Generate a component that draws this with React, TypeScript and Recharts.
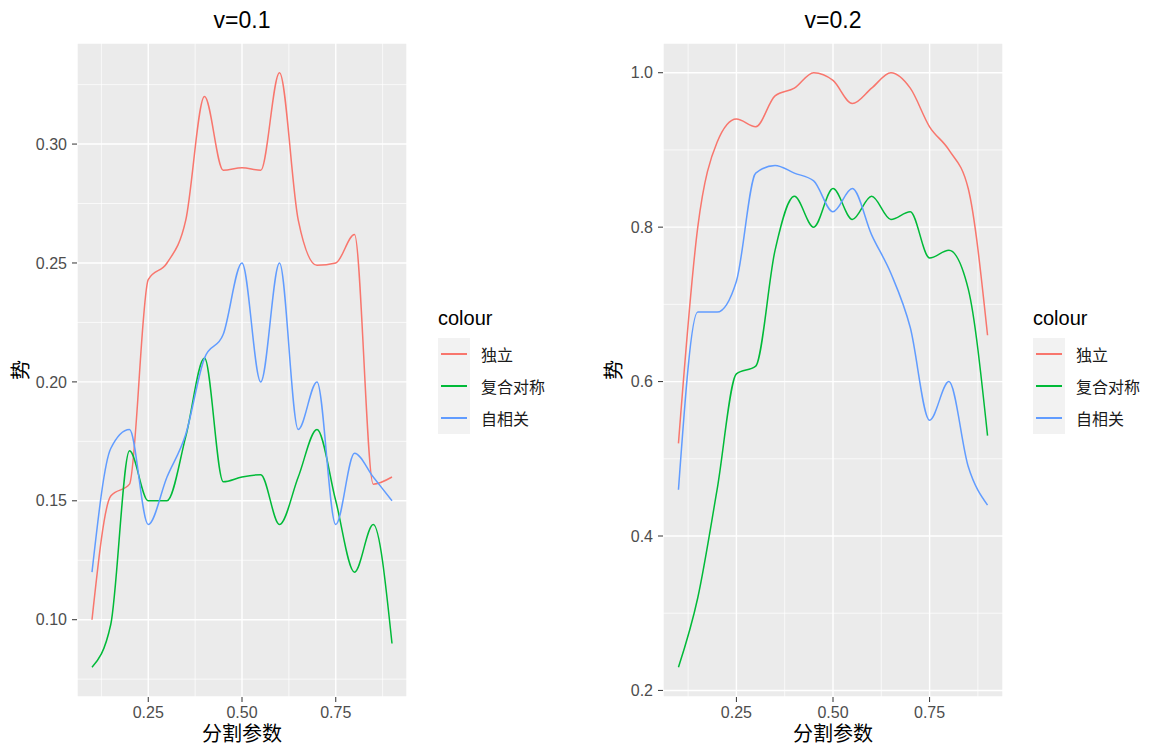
import { CartesianGrid, Legend, Line, LineChart, XAxis, YAxis } from "recharts";

const FONT = "'Liberation Sans', Arial, 'Noto Sans CJK SC', sans-serif";

const splitParams = [0.1, 0.15, 0.2, 0.25, 0.3, 0.35, 0.4, 0.45, 0.5, 0.55, 0.6, 0.65, 0.7, 0.75, 0.8, 0.85, 0.9];
const seriesNames = ["独立", "复合对称", "自相关"];
const seriesColors = ["#F8766D", "#00BA38", "#619CFF"];

// v = 0.1
const indepV1 = [0.1, 0.152, 0.157, 0.243, 0.25, 0.268, 0.32, 0.289, 0.29, 0.289, 0.33, 0.268, 0.249, 0.25, 0.262, 0.157, 0.16];
const compV1 = [0.08, 0.098, 0.171, 0.15, 0.15, 0.177, 0.21, 0.158, 0.16, 0.161, 0.14, 0.16, 0.18, 0.15, 0.12, 0.14, 0.09];
const autoV1 = [0.12, 0.172, 0.18, 0.14, 0.16, 0.178, 0.21, 0.22, 0.25, 0.2, 0.25, 0.18, 0.2, 0.14, 0.17, 0.16, 0.15];

// v = 0.2
const indepV2 = [0.52, 0.8, 0.91, 0.94, 0.93, 0.97, 0.98, 1.0, 0.99, 0.96, 0.98, 1.0, 0.98, 0.93, 0.9, 0.85, 0.66];
const compV2 = [0.23, 0.32, 0.46, 0.61, 0.62, 0.77, 0.84, 0.8, 0.85, 0.81, 0.84, 0.81, 0.82, 0.76, 0.77, 0.72, 0.53];
const autoV2 = [0.46, 0.69, 0.69, 0.73, 0.87, 0.88, 0.87, 0.86, 0.82, 0.85, 0.79, 0.74, 0.67, 0.55, 0.6, 0.49, 0.44];

const xTicks = [0.25, 0.5, 0.75];
const xMinor = [0.125, 0.375, 0.625, 0.875];
const yTicksV1 = [0.1, 0.15, 0.2, 0.25, 0.3];
const yMinorV1 = [0.075, 0.125, 0.175, 0.225, 0.275, 0.325];
const yTicksV2 = [0.2, 0.4, 0.6, 0.8, 1.0];
const yMinorV2 = [0.3, 0.5, 0.7, 0.9];

const LegendBox = ({ payload }: any) => {
  // keep the series order, not the alphabetical one
  const items = [...(payload ?? [])].sort(
    (a: any, b: any) => seriesNames.indexOf(a.value) - seriesNames.indexOf(b.value)
  );
  return (
    <div style={{ fontFamily: FONT }}>
      <div style={{ fontSize: 20, lineHeight: "26px", color: "#000", marginBottom: 7 }}>colour</div>
      {items.map((p: any) => (
        <div key={p.value} style={{ display: "flex", alignItems: "center", height: 32 }}>
          <div style={{ width: 32, height: 32, background: "#F2F2F2", position: "relative" }}>
            <div style={{ position: "absolute", left: 3, right: 3, top: 15, height: 1.6, background: p.color }} />
          </div>
          <span style={{ marginLeft: 11, fontSize: 16, color: "#1A1A1A" }}>{p.value}</span>
        </div>
      ))}
    </div>
  );
};

type PanelProps = {
  title: string;
  series: number[][];
  yDomain: [number, number];
  yTicks: number[];
  yMinor: number[];
  yDigits: number;
  left: number;
  width: number;
  axisWidth: number;
  plotWidth: number;
  yTitleOffset: number;
  legendLeft: number;
};

const Panel = (p: PanelProps) => {
  const data = splitParams.map((x, i) => ({ x, s0: p.series[0][i], s1: p.series[1][i], s2: p.series[2][i] }));
  const right = p.width - p.axisWidth - p.plotWidth;
  return (
    <div style={{ position: "absolute", left: p.left, top: 0, width: p.width, height: 751 }}>
      <div
        style={{
          position: "absolute",
          left: p.axisWidth,
          width: p.plotWidth,
          top: 9,
          textAlign: "center",
          fontSize: 23,
          lineHeight: "23px",
          fontFamily: FONT,
          color: "#000",
        }}
      >
        {p.title}
      </div>
      <LineChart width={p.width} height={751} data={data} margin={{ top: 43, right, bottom: 0, left: 0 }}>
        <CartesianGrid
          fill="#EBEBEB"
          fillOpacity={1}
          stroke="#FFFFFF"
          strokeWidth={0.7}
          verticalValues={xMinor}
          horizontalValues={p.yMinor}
        />
        <CartesianGrid stroke="#FFFFFF" strokeWidth={1.4} />
        <XAxis
          dataKey="x"
          type="number"
          domain={[0.06, 0.94]}
          allowDataOverflow
          ticks={xTicks}
          tickFormatter={(v: number) => v.toFixed(2)}
          height={54}
          tickSize={5}
          tickMargin={5}
          axisLine={false}
          tickLine={{ stroke: "#333333" }}
          tick={{ fontSize: 16, fill: "#4D4D4D", fontFamily: FONT }}
          label={{
            value: "分割参数",
            position: "insideBottom",
            offset: 10,
            style: { fontSize: 20, fill: "#000", fontFamily: FONT },
          }}
        />
        <YAxis
          type="number"
          domain={p.yDomain}
          allowDataOverflow
          ticks={p.yTicks}
          tickFormatter={(v: number) => v.toFixed(p.yDigits)}
          width={p.axisWidth}
          tickSize={5}
          tickMargin={5}
          axisLine={false}
          tickLine={{ stroke: "#333333" }}
          tick={{ fontSize: 16, fill: "#4D4D4D", fontFamily: FONT }}
          label={{
            value: "势",
            position: "insideLeft",
            angle: -90,
            offset: p.yTitleOffset,
            style: { textAnchor: "middle", fontSize: 20, fill: "#000", fontFamily: FONT },
          }}
        />
        {seriesNames.map((name, i) => (
          <Line
            key={name}
            type="monotone"
            dataKey={`s${i}`}
            name={name}
            stroke={seriesColors[i]}
            strokeWidth={1.5}
            dot={false}
            activeDot={false}
            isAnimationActive={false}
          />
        ))}
        <Legend
          layout="vertical"
          align="center"
          verticalAlign="middle"
          content={<LegendBox />}
          wrapperStyle={{ left: p.legendLeft, top: 305, width: 140 }}
        />
      </LineChart>
    </div>
  );
};

export default function App() {
  return (
    <div style={{ position: "absolute", left: 0, top: 0, width: 1150, height: 751, background: "#fff" }}>
      <Panel
        title="v=0.1"
        series={[indepV1, compV1, autoV1]}
        yDomain={[0.0675, 0.3425]}
        yTicks={yTicksV1}
        yMinor={yMinorV1}
        yDigits={2}
        left={0}
        width={580}
        axisWidth={77}
        plotWidth={330}
        yTitleOffset={21}
        legendLeft={438}
      />
      <Panel
        title="v=0.2"
        series={[indepV2, compV2, autoV2]}
        yDomain={[0.1915, 1.0385]}
        yTicks={yTicksV2}
        yMinor={yMinorV2}
        yDigits={1}
        left={580}
        width={570}
        axisWidth={83}
        plotWidth={340}
        yTitleOffset={34}
        legendLeft={453}
      />
    </div>
  );
}
